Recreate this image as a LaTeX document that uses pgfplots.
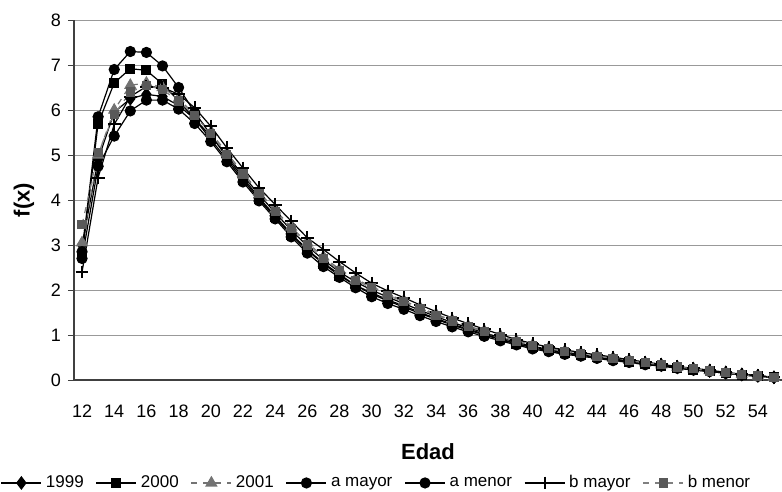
\documentclass[border=0pt]{standalone}
\usepackage{fontspec}
\setmainfont{Liberation Sans}
\usepackage{pgfplots}
\usepackage{pgfplotstable}
\pgfplotsset{compat=1.18}

% f(x) por edad, siete series
\pgfplotstableread{
age y1999 y2000 y2001 amay amen bmay bmen
12 3.00 2.75 3.05 2.85 2.70 2.40 3.45
13 4.90 5.70 5.00 5.85 4.75 4.50 5.05
14 5.95 6.60 6.00 6.90 5.42 5.68 5.90
15 6.25 6.92 6.55 7.30 5.98 6.30 6.40
16 6.35 6.88 6.60 7.28 6.22 6.52 6.55
17 6.30 6.58 6.50 6.98 6.22 6.50 6.45
18 6.10 6.20 6.25 6.50 6.02 6.35 6.20
19 5.80 5.80 5.90 5.95 5.70 6.05 5.88
20 5.42 5.35 5.50 5.45 5.30 5.64 5.48
21 5.00 4.90 5.05 4.95 4.85 5.16 5.02
22 4.55 4.45 4.60 4.50 4.40 4.71 4.58
23 4.12 4.02 4.18 4.05 3.98 4.27 4.15
24 3.72 3.62 3.78 3.65 3.58 3.90 3.75
25 3.33 3.22 3.40 3.25 3.18 3.53 3.36
26 2.98 2.88 3.05 2.90 2.82 3.16 3.00
27 2.67 2.58 2.74 2.60 2.52 2.90 2.70
28 2.40 2.32 2.46 2.35 2.28 2.63 2.43
29 2.18 2.10 2.24 2.10 2.05 2.38 2.21
30 2.00 1.94 2.08 1.91 1.85 2.15 2.05
31 1.84 1.78 1.91 1.76 1.70 1.98 1.88
32 1.70 1.65 1.76 1.62 1.57 1.83 1.74
33 1.55 1.50 1.61 1.48 1.43 1.67 1.58
34 1.41 1.37 1.46 1.35 1.30 1.52 1.44
35 1.28 1.24 1.33 1.22 1.18 1.38 1.31
36 1.16 1.13 1.20 1.11 1.07 1.25 1.19
37 1.05 1.02 1.09 1.00 0.97 1.13 1.07
38 0.94 0.91 0.98 0.90 0.87 1.01 0.96
39 0.84 0.81 0.87 0.80 0.78 0.90 0.86
40 0.75 0.73 0.78 0.72 0.69 0.81 0.77
41 0.68 0.66 0.71 0.65 0.63 0.73 0.70
42 0.62 0.60 0.64 0.59 0.57 0.67 0.63
43 0.57 0.55 0.59 0.54 0.53 0.61 0.58
44 0.52 0.50 0.54 0.50 0.48 0.56 0.53
45 0.47 0.46 0.49 0.45 0.43 0.51 0.48
46 0.42 0.41 0.44 0.40 0.39 0.45 0.43
47 0.37 0.36 0.38 0.35 0.34 0.40 0.38
48 0.33 0.32 0.34 0.32 0.31 0.35 0.34
49 0.28 0.27 0.29 0.27 0.26 0.30 0.29
50 0.24 0.23 0.25 0.23 0.22 0.26 0.25
51 0.20 0.19 0.21 0.19 0.19 0.22 0.20
52 0.16 0.16 0.17 0.15 0.15 0.17 0.16
53 0.12 0.12 0.12 0.11 0.11 0.13 0.12
54 0.09 0.09 0.09 0.09 0.08 0.10 0.09
55 0.06 0.06 0.06 0.06 0.06 0.06 0.06
}\fdata

\begin{document}
\begin{tikzpicture}
\path[use as bounding box] (-37pt,-56pt) rectangle (354pt,190pt);
\begin{axis}[
  scale only axis, width=354pt, height=180pt,
  xmin=11.5, xmax=55.5, ymin=0, ymax=8,
  xtick={12,14,...,54}, ytick={0,1,...,8},
  axis x line*=bottom, axis y line*=left,
  axis line style={black!75, line width=0.6pt},
  ymajorgrids, grid style={black!40, line width=0.5pt},
  tick align=outside, major tick length=3pt,
  ytick style={black!75},
  xtick style={draw=none},
  tick label style={font=\fontsize{9}{10}\selectfont},
  /pgf/number format/assume math mode=true,
  xticklabel style={yshift=-6pt},
  xlabel={Edad},
  xlabel style={at={(axis description cs:0.5,-0.2)}, anchor=center, font=\bfseries\fontsize{11}{12}\selectfont},
  ylabel={f(x)},
  ylabel style={at={(axis description cs:-0.0706,0.5)}, anchor=center, font=\bfseries\fontsize{11}{12}\selectfont},
  legend style={draw=none, fill=none, legend columns=-1, inner sep=0pt,
    font=\fontsize{8.5}{10}\selectfont, nodes={inner xsep=2pt},
    at={(axis description cs:-0.104,-0.286)}, anchor=west,
    /tikz/every even column/.append style={column sep=4pt}},
  legend image code/.code={\draw[mark repeat=2,mark phase=2] plot coordinates {(0pt,0pt)(10pt,0pt)(20pt,0pt)};},
  every axis plot/.append style={line width=0.6pt},
]
\addplot[black, mark=diamond*, mark size=3pt, mark options={solid, fill=black}] table[x=age, y=y1999]{\fdata};
\addplot[black, mark=square*, mark size=2.2pt, mark options={solid, fill=black}] table[x=age, y=y2000]{\fdata};
\addplot[black!55, dashed, mark=triangle*, mark size=3pt, mark options={solid, fill=black!55}] table[x=age, y=y2001]{\fdata};
\addplot[black, mark=*, mark size=2.5pt, mark options={solid, fill=black}] table[x=age, y=amay]{\fdata};
\addplot[black, mark=*, mark size=2.5pt, mark options={solid, fill=black}] table[x=age, y=amen]{\fdata};
\addplot[black, mark=+, mark size=3.2pt, mark options={solid, line width=1pt}] table[x=age, y=bmay]{\fdata};
\addplot[black!50, dashed, mark=square*, mark size=2pt, mark options={solid, fill=black!65, draw=black!65}] table[x=age, y=bmen]{\fdata};
\legend{1999, 2000, 2001, a mayor, a menor, b mayor, b menor}
\end{axis}
\end{tikzpicture}
\end{document}
